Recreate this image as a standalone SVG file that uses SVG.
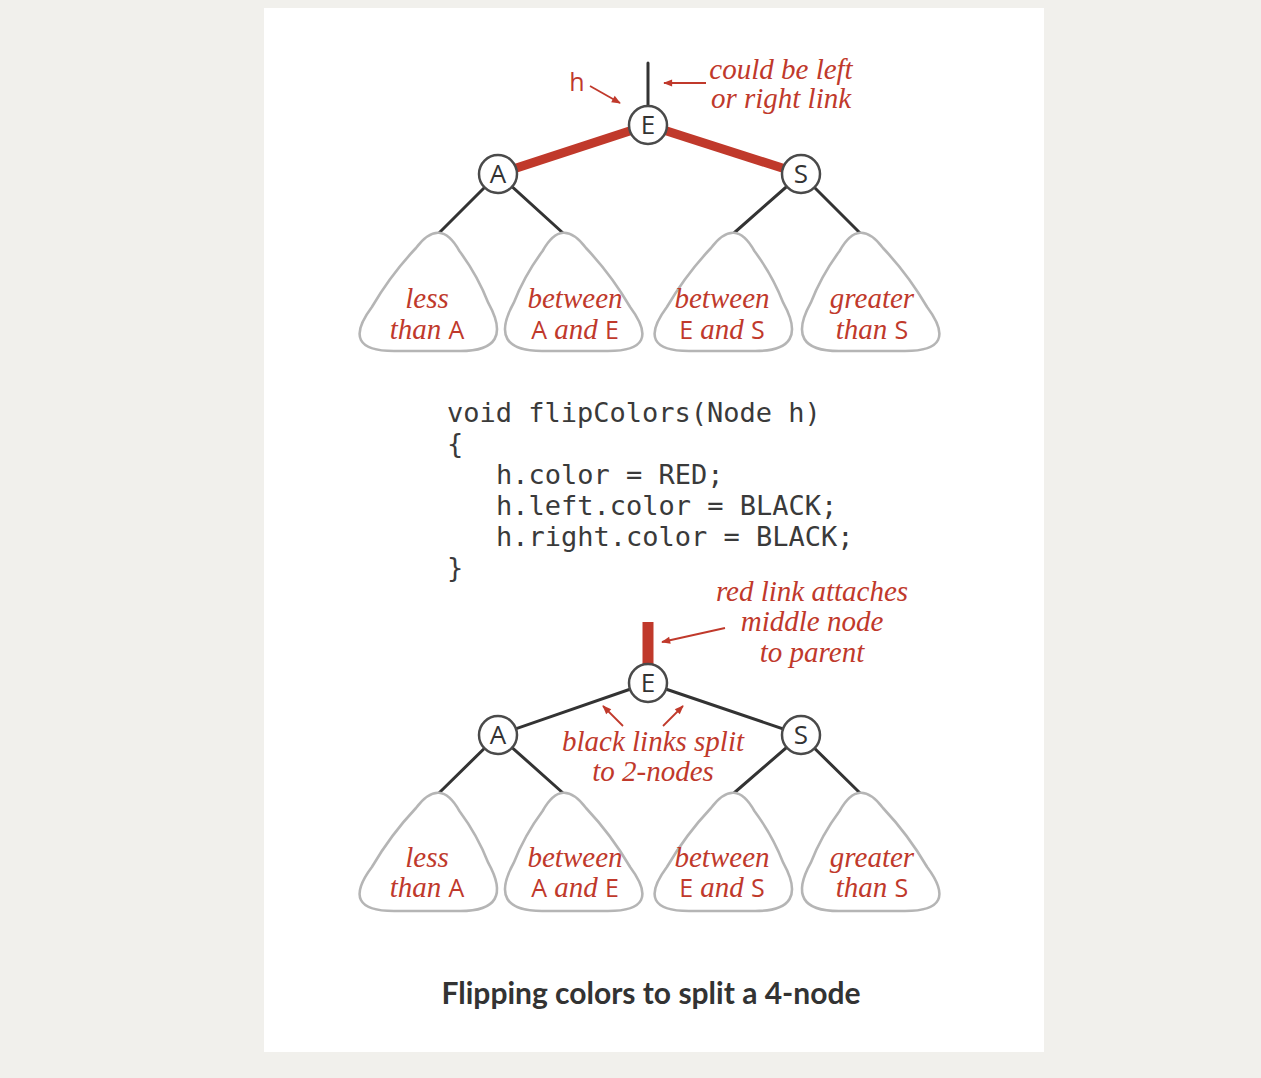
<svg xmlns="http://www.w3.org/2000/svg" xmlns:xlink="http://www.w3.org/1999/xlink" width="1261" height="1078" viewBox="0 0 1261 1078">
<style>
.bg{fill:#f1f0ec}
.panel{fill:#ffffff}
.tri{fill:#ffffff;stroke:#b5b5b5;stroke-width:2.6;stroke-linejoin:round}
.nd{fill:#ffffff;stroke:#4a4a4a;stroke-width:2.5}
.lt{font-family:"Open Sans","Liberation Sans",sans-serif;font-size:26px;fill:#333;text-anchor:middle}
.blk{stroke:#333;stroke-width:3;fill:none;stroke-linecap:round}
.red{stroke:#c0392b;stroke-width:9;fill:none}
.ann{stroke:#c0392b;stroke-width:1.8;fill:none}
.it{font-family:"Liberation Serif","Times New Roman",serif;font-style:italic;font-size:29px;fill:#c0392b;text-anchor:middle}
.up{font-family:"Open Sans","Liberation Sans",sans-serif;font-style:normal;font-size:25px}
.code{font-family:"DejaVu Sans Mono","Liberation Mono",monospace;font-size:27px;fill:#3a3a3a}
.cap{font-family:Lato,"Liberation Sans",sans-serif;font-weight:bold;font-size:30px;fill:#333;text-anchor:middle}
</style>
<defs>
<marker id="ah" viewBox="0 0 10 10" refX="9" refY="5" markerWidth="11" markerHeight="9" markerUnits="userSpaceOnUse" orient="auto">
<path d="M0,1 L10,5 L0,9 z" fill="#c0392b"/>
</marker>
<path id="triR" d="M -11,16 Q 13,-16 32.4,19 Q 50.3,43 61.3,70.9 Q 88,119 33,119 L -33,119 Q -88,119 -55.1,75 Q -36.2,42.7 -11,16 Z"/>
<path id="triL" d="M 11,16 Q -13,-16 -32.4,19 Q -50.3,43 -61.3,70.9 Q -88,119 -33,119 L 33,119 Q 88,119 55.1,75 Q 36.2,42.7 11,16 Z"/>
</defs>
<rect class="bg" x="0" y="0" width="1261" height="1078"/>
<rect class="panel" x="264" y="8" width="780" height="1044"/>

<g id="connectors">
<line class="blk" x1="648" y1="63" x2="648" y2="110"/>
<line class="red" x1="648" y1="125" x2="498" y2="174"/>
<line class="red" x1="648" y1="125" x2="801" y2="174"/>
<line class="blk" x1="498" y1="174" x2="439" y2="233"/>
<line class="blk" x1="498" y1="174" x2="563" y2="233"/>
<line class="blk" x1="801" y1="174" x2="734" y2="233"/>
<line class="blk" x1="801" y1="174" x2="860" y2="233"/>
<line x1="648" y1="622" x2="648" y2="668" stroke="#c0392b" stroke-width="11"/>
<line class="blk" x1="648" y1="683" x2="498" y2="735"/>
<line class="blk" x1="648" y1="683" x2="801" y2="735"/>
<line class="blk" x1="498" y1="735" x2="439" y2="793"/>
<line class="blk" x1="498" y1="735" x2="563" y2="793"/>
<line class="blk" x1="801" y1="735" x2="734" y2="793"/>
<line class="blk" x1="801" y1="735" x2="860" y2="793"/>
<line class="ann" x1="590" y1="86" x2="620" y2="103" marker-end="url(#ah)"/>
<line class="ann" x1="706" y1="83" x2="664" y2="83" marker-end="url(#ah)"/>
<line class="ann" x1="725" y1="628" x2="662" y2="642" marker-end="url(#ah)"/>
<line class="ann" x1="623" y1="726" x2="603" y2="706" marker-end="url(#ah)"/>
<line class="ann" x1="663" y1="726" x2="683" y2="706" marker-end="url(#ah)"/>
</g>

<g id="node-E1"><circle class="nd" cx="648" cy="125" r="19"/><text class="lt" x="648" y="134">E</text></g>
<g id="node-A1"><circle class="nd" cx="498" cy="174" r="19"/><text class="lt" x="498" y="183">A</text></g>
<g id="node-S1"><circle class="nd" cx="801" cy="174" r="19"/><text class="lt" x="801" y="183">S</text></g>

<g id="sub-1a"><use xlink:href="#triR" class="tri" transform="translate(427,232)"/>
<text class="it" x="427" y="308">less</text><text class="it" x="427" y="339">than <tspan class="up">A</tspan></text></g>
<g id="sub-1b"><use xlink:href="#triL" class="tri" transform="translate(575,232)"/>
<text class="it" x="575" y="308">between</text><text class="it" x="575" y="339"><tspan class="up">A</tspan> and <tspan class="up">E</tspan></text></g>
<g id="sub-1c"><use xlink:href="#triR" class="tri" transform="translate(722,232)"/>
<text class="it" x="722" y="308">between</text><text class="it" x="722" y="339"><tspan class="up">E</tspan> and <tspan class="up">S</tspan></text></g>
<g id="sub-1d"><use xlink:href="#triL" class="tri" transform="translate(872,232)"/>
<text class="it" x="872" y="308">greater</text><text class="it" x="872" y="339">than <tspan class="up">S</tspan></text></g>

<g id="label-h"><text x="577" y="91" font-family="Open Sans, Liberation Sans, sans-serif" font-size="25" fill="#c0392b" text-anchor="middle">h</text></g>
<g id="label-could"><text class="it" x="781" y="79">could be left</text><text class="it" x="781" y="108">or right link</text></g>

<g id="code">
<text class="code" x="447" y="422">void flipColors(Node h)</text>
<text class="code" x="447" y="453">{</text>
<text class="code" x="496" y="484">h.color = RED;</text>
<text class="code" x="496" y="515">h.left.color = BLACK;</text>
<text class="code" x="496" y="546">h.right.color = BLACK;</text>
<text class="code" x="447" y="577">}</text>
</g>

<g id="label-redlink"><text class="it" x="812" y="601">red link attaches</text><text class="it" x="812" y="631">middle node</text><text class="it" x="812" y="662">to parent</text></g>

<g id="node-E2"><circle class="nd" cx="648" cy="683" r="19"/><text class="lt" x="648" y="692">E</text></g>
<g id="node-A2"><circle class="nd" cx="498" cy="735" r="19"/><text class="lt" x="498" y="744">A</text></g>
<g id="node-S2"><circle class="nd" cx="801" cy="735" r="19"/><text class="lt" x="801" y="744">S</text></g>

<g id="label-black"><text class="it" x="653" y="751">black links split</text><text class="it" x="653" y="781">to 2-nodes</text></g>

<g id="sub-2a"><use xlink:href="#triR" class="tri" transform="translate(427,792)"/>
<text class="it" x="427" y="867">less</text><text class="it" x="427" y="897">than <tspan class="up">A</tspan></text></g>
<g id="sub-2b"><use xlink:href="#triL" class="tri" transform="translate(575,792)"/>
<text class="it" x="575" y="867">between</text><text class="it" x="575" y="897"><tspan class="up">A</tspan> and <tspan class="up">E</tspan></text></g>
<g id="sub-2c"><use xlink:href="#triR" class="tri" transform="translate(722,792)"/>
<text class="it" x="722" y="867">between</text><text class="it" x="722" y="897"><tspan class="up">E</tspan> and <tspan class="up">S</tspan></text></g>
<g id="sub-2d"><use xlink:href="#triL" class="tri" transform="translate(872,792)"/>
<text class="it" x="872" y="867">greater</text><text class="it" x="872" y="897">than <tspan class="up">S</tspan></text></g>

<g id="caption"><text class="cap" x="651" y="1004">Flipping colors to split a 4-node</text></g>
</svg>
